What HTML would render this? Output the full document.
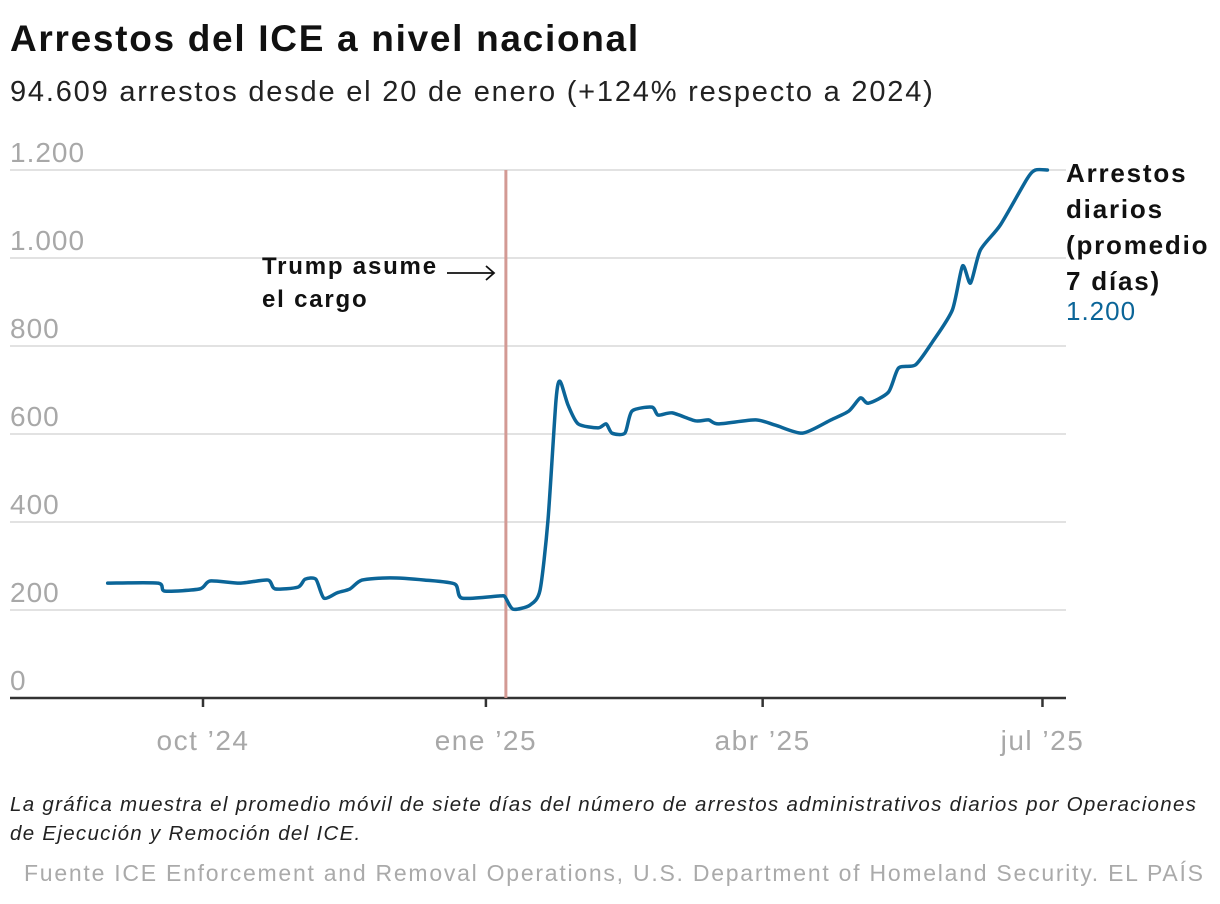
<!DOCTYPE html>
<html><head><meta charset="utf-8">
<style>
body{margin:0;background:#fff;font-family:"Liberation Sans",sans-serif;}
#wrap{position:relative;width:1220px;height:904px;overflow:hidden;}
.t{position:absolute;white-space:nowrap;}
</style></head>
<body>
<div id="wrap">
<div class="t" style="left:10px;top:18px;font-size:37px;font-weight:bold;color:#111;letter-spacing:1.7px;">Arrestos del ICE a nivel nacional</div>
<div class="t" style="left:10px;top:76px;font-size:29px;color:#222;letter-spacing:1.8px;">94.609 arrestos desde el 20 de enero (+124% respecto a 2024)</div>
<svg id="chart" width="1220" height="780" style="position:absolute;left:0;top:0;"></svg>
<div class="t" style="left:1066px;top:155px;font-size:26px;font-weight:bold;color:#111;line-height:36px;letter-spacing:1.8px;">Arrestos<br>diarios<br>(promedio<br>7 días)</div>
<div class="t" style="left:1066px;top:296px;font-size:26px;color:#0b6598;letter-spacing:1px;">1.200</div>
<div class="t" style="left:262px;top:250px;font-size:24px;font-weight:bold;color:#111;line-height:33px;letter-spacing:1.8px;">Trump asume<br>el cargo</div>
<div class="t" style="left:10px;top:790px;font-size:20.5px;font-style:italic;color:#222;line-height:29px;letter-spacing:1.3px;">La gráfica muestra el promedio móvil de siete días del número de arrestos administrativos diarios por Operaciones<br>de Ejecución y Remoción del ICE.</div>
<div class="t" style="left:24px;top:860px;font-size:23px;color:#aaa;letter-spacing:1.75px;">Fuente ICE Enforcement and Removal Operations, U.S. Department of Homeland Security. EL PAÍS</div>
</div>
<script>
// days since 2024-10-01
const days=[-31,-14.6,-12.4,-1,2.3,12,21.1,23.4,30.9,33.2,36.7,39.3,43.6,47.8,51.7,60.8,72.2,81.9,84.2,96.6,98.2,100.8,106.3,109.6,112.2,114.8,116.1,118.7,122,128.5,131.1,133.0,137.2,139.5,146,148,152.6,160.1,164.4,167.6,179.7,186.2,195,204.2,210,213.8,216.4,222.9,226.2,231.7,237.2,243.7,247,249.6,252.8,259.3,268,270.7,274.6];
const values=[261,261,243,248,266,261,268,248,252,270,270,227,239,248,268,273,268,259,227,232,230,202,211,245,405,677,720,666,623,614,623,602,602,652,661,643,648,630,632,623,632,620,602,632,652,682,670,695,750,757,809,882,982,943,1018,1075,1180,1200,1200];
const yTicks=[0,200,400,600,800,1000,1200];
const yTickLabels=["0","200","400","600","800","1.000","1.200"];
const xTickDays=[0,92,182,273];
const xTickLabels=["oct ’24","ene ’25","abr ’25","jul ’25"];
const eventDay=98.5;
const NS="http://www.w3.org/2000/svg";
const svg=document.getElementById('chart');
const X=d=>203+d*3.075;
const Y=v=>698-v*0.44;
function el(tag,attrs){const e=document.createElementNS(NS,tag);for(const k in attrs)e.setAttribute(k,attrs[k]);svg.appendChild(e);return e;}
yTicks.forEach((v,i)=>{
  if(v>0){const g=el('line',{x1:10,x2:1066,y1:Y(v),y2:Y(v),stroke:'#e2e2e2','stroke-width':2});
  
  }
  const t=el('text',{x:10,y:Y(v)-8,'font-size':28,fill:'#a8a8a8','letter-spacing':1,'font-family':'Liberation Sans, sans-serif'});
  t.textContent=yTickLabels[i];
  
  
});
const ax=el('line',{x1:10,x2:1066,y1:698,y2:698,stroke:'#333','stroke-width':2.5});


xTickDays.forEach((d,i)=>{
  const tk=el('line',{x1:X(d),x2:X(d),y1:698,y2:707,stroke:'#333','stroke-width':2.5});
  
  
  const t=el('text',{x:X(d),y:750,'font-size':28,fill:'#a8a8a8','text-anchor':'middle','letter-spacing':1.5,'font-family':'Liberation Sans, sans-serif'});
  t.textContent=xTickLabels[i];
  
  
});
const ev=el('line',{x1:X(eventDay),x2:X(eventDay),y1:170,y2:698,stroke:'#d39a94','stroke-width':3});


const ar=el('path',{d:`M447 273 H494 M486 266 L494 273 L486 280`,stroke:'#111','stroke-width':1.8,fill:'none'});


let pts=days.map((d,i)=>[X(d),Y(values[i])]);
let dstr='M'+pts[0][0]+' '+pts[0][1];
for(let i=0;i<pts.length-1;i++){
  const p0=pts[Math.max(0,i-1)],p1=pts[i],p2=pts[i+1],p3=pts[Math.min(pts.length-1,i+2)];
  const t=0.12;
  const c1=[p1[0]+(p2[0]-p0[0])*t,p1[1]+(p2[1]-p0[1])*t];
  const c2=[p2[0]-(p3[0]-p1[0])*t,p2[1]-(p3[1]-p1[1])*t];
  dstr+=` C${c1[0]} ${c1[1]} ${c2[0]} ${c2[1]} ${p2[0]} ${p2[1]}`;
}
const ln=el('path',{d:dstr,stroke:'#0b6598','stroke-width':3.5,fill:'none','stroke-linejoin':'round','stroke-linecap':'round'});


</script>
</body></html>
